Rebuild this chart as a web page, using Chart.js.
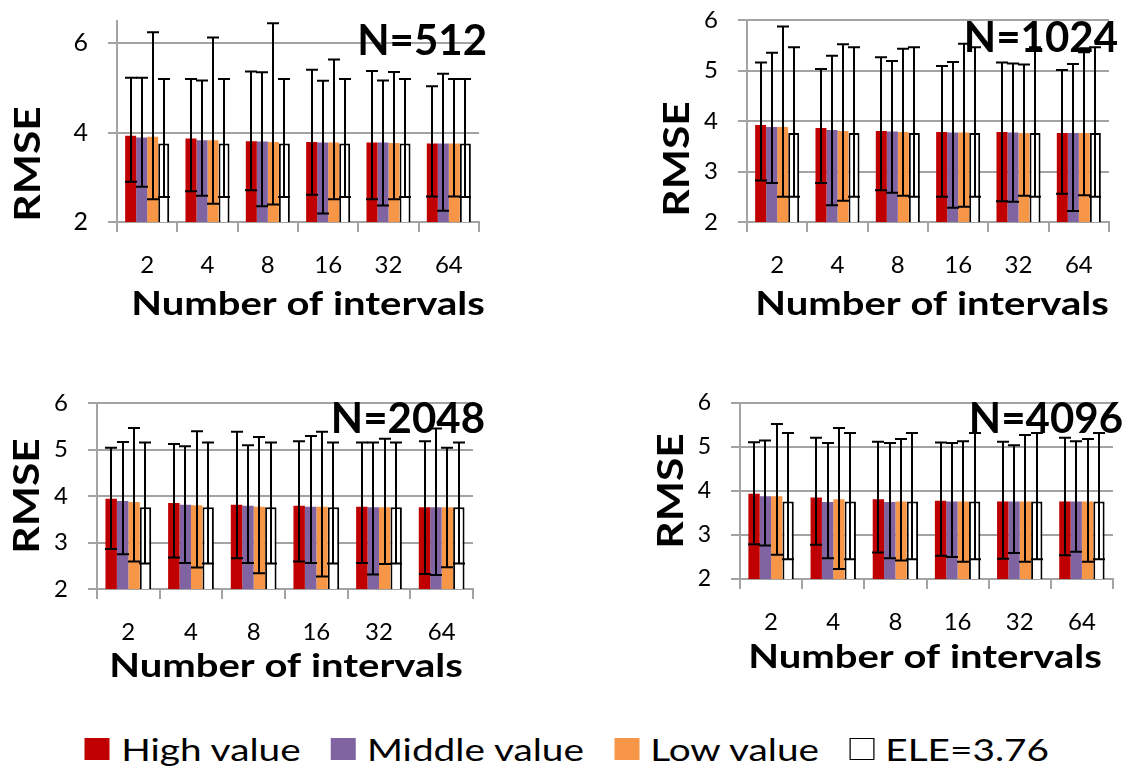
<!DOCTYPE html>
<html>
<head>
<meta charset="utf-8">
<title>RMSE by number of intervals</title>
<script src="https://cdn.jsdelivr.net/npm/chart.js@4.4.0/dist/chart.umd.min.js"></script>
<style>
  html, body { margin: 0; padding: 0; background: #fff; }
  body { width: 1128px; height: 768px; position: relative; overflow: hidden; font-family: Lato, sans-serif; }
  canvas { position: absolute; }
  #legend { position: absolute; left: 0; top: 729px; width: 1128px; height: 40px;
            display: flex; justify-content: center; align-items: center;
            font-size: 31px; color: #000; transform: scaleX(1.25); transform-origin: 552px 50%; }
  .item { display: flex; align-items: center; margin: 0 12px; white-space: nowrap; }
  .swatch { width: 20px; height: 22px; margin-right: 9px; box-sizing: border-box; }
</style>
</head>
<body>
<canvas id="c512"></canvas>
<canvas id="c1024"></canvas>
<canvas id="c2048"></canvas>
<canvas id="c4096"></canvas>
<div id="legend"></div>
<script>
// --- data ---
const categories = ['2', '4', '8', '16', '32', '64'];
const seriesNames = ['High value', 'Middle value', 'Low value', 'ELE=3.76'];

// N=512
const n512High = [3.93, 3.87, 3.81, 3.79, 3.78, 3.76];
const n512HighMin = [2.90, 2.69, 2.71, 2.61, 2.51, 2.57];
const n512HighMax = [5.23, 5.20, 5.37, 5.41, 5.38, 5.04];
const n512Middle = [3.89, 3.83, 3.80, 3.78, 3.78, 3.76];
const n512MiddleMin = [2.79, 2.59, 2.35, 2.19, 2.37, 2.25];
const n512MiddleMax = [5.23, 5.17, 5.35, 5.16, 5.17, 5.32];
const n512Low = [3.91, 3.83, 3.79, 3.78, 3.77, 3.76];
const n512LowMin = [2.51, 2.41, 2.39, 2.51, 2.51, 2.57];
const n512LowMax = [6.25, 6.13, 6.45, 5.64, 5.36, 5.20];
const n512Ele = [3.76, 3.76, 3.76, 3.76, 3.76, 3.76];
const n512EleMin = [2.56, 2.56, 2.56, 2.56, 2.56, 2.56];
const n512EleMax = [5.20, 5.20, 5.20, 5.20, 5.20, 5.20];

// N=1024
const n1024High = [3.92, 3.86, 3.80, 3.78, 3.78, 3.76];
const n1024HighMin = [2.82, 2.77, 2.63, 2.50, 2.41, 2.56];
const n1024HighMax = [5.16, 5.03, 5.26, 5.09, 5.16, 5.01];
const n1024Middle = [3.88, 3.82, 3.79, 3.77, 3.77, 3.76];
const n1024MiddleMin = [2.77, 2.33, 2.58, 2.28, 2.40, 2.22];
const n1024MiddleMax = [5.35, 5.29, 5.19, 5.17, 5.14, 5.13];
const n1024Low = [3.88, 3.80, 3.78, 3.77, 3.76, 3.76];
const n1024LowMin = [2.50, 2.42, 2.52, 2.30, 2.52, 2.53];
const n1024LowMax = [5.87, 5.52, 5.43, 5.53, 5.12, 5.36];
const n1024Ele = [3.76, 3.76, 3.76, 3.76, 3.76, 3.76];
const n1024EleMin = [2.50, 2.50, 2.50, 2.50, 2.50, 2.50];
const n1024EleMax = [5.46, 5.46, 5.46, 5.46, 5.46, 5.46];

// N=2048
const n2048High = [3.94, 3.85, 3.81, 3.79, 3.77, 3.76];
const n2048HighMin = [2.86, 2.68, 2.66, 2.59, 2.56, 2.32];
const n2048HighMax = [5.04, 5.12, 5.38, 5.18, 5.15, 5.18];
const n2048Middle = [3.89, 3.81, 3.79, 3.77, 3.76, 3.76];
const n2048MiddleMin = [2.75, 2.56, 2.56, 2.56, 2.31, 2.30];
const n2048MiddleMax = [5.16, 5.07, 5.09, 5.29, 5.15, 5.45];
const n2048Low = [3.87, 3.80, 3.77, 3.77, 3.76, 3.76];
const n2048LowMin = [2.59, 2.46, 2.34, 2.27, 2.54, 2.47];
const n2048LowMax = [5.46, 5.39, 5.27, 5.38, 5.23, 5.04];
const n2048Ele = [3.76, 3.76, 3.76, 3.76, 3.76, 3.76];
const n2048EleMin = [2.55, 2.55, 2.55, 2.55, 2.55, 2.55];
const n2048EleMax = [5.15, 5.15, 5.15, 5.15, 5.15, 5.15];

// N=4096
const n4096High = [3.94, 3.85, 3.81, 3.78, 3.76, 3.76];
const n4096HighMin = [2.79, 2.78, 2.60, 2.53, 2.46, 2.54];
const n4096HighMax = [5.11, 5.21, 5.12, 5.10, 5.12, 5.21];
const n4096Middle = [3.88, 3.75, 3.75, 3.76, 3.76, 3.76];
const n4096MiddleMin = [2.76, 2.47, 2.47, 2.50, 2.59, 2.62];
const n4096MiddleMax = [5.15, 5.09, 5.09, 5.09, 5.04, 5.13];
const n4096Low = [3.88, 3.81, 3.76, 3.76, 3.76, 3.76];
const n4096LowMin = [2.55, 2.23, 2.42, 2.39, 2.39, 2.39];
const n4096LowMax = [5.52, 5.43, 5.18, 5.13, 5.27, 5.18];
const n4096Ele = [3.76, 3.76, 3.76, 3.76, 3.76, 3.76];
const n4096EleMin = [2.45, 2.45, 2.45, 2.45, 2.45, 2.45];
const n4096EleMax = [5.32, 5.32, 5.32, 5.32, 5.32, 5.32];

// y ticks
const yTicks512 = [2, 4, 6];
const yTicksOther = [2, 3, 4, 5, 6];

// --- styles ---
const FONT = 'Lato, sans-serif';
const fillColors = ['#C00000', '#8064A2', '#F79646', '#FFFFFF'];
const gridColor = '#a3a3a3';

// --- layout of the four panels (page pixels) ---
const panels = [
  { id: 'c512', label: 'N=512', yMax: 6.5, yTicks: yTicks512, yFont: 25,
    box: [0, 0, 520, 335], area: [117, 21, 479, 222],
    rmse: [28, 164], xTitle: [308, 315], nDx: 8, nBase: 55,
    means: [n512High, n512Middle, n512Low, n512Ele],
    mins: [n512HighMin, n512MiddleMin, n512LowMin, n512EleMin],
    maxs: [n512HighMax, n512MiddleMax, n512LowMax, n512EleMax] },
  { id: 'c1024', label: 'N=1024', yMax: 6, yTicks: yTicksOther, yFont: 24,
    box: [620, 0, 1128, 335], area: [747, 20, 1109, 222],
    rmse: [677, 159], xTitle: [932, 315], nDx: 9, nBase: 52,
    means: [n1024High, n1024Middle, n1024Low, n1024Ele],
    mins: [n1024HighMin, n1024MiddleMin, n1024LowMin, n1024EleMin],
    maxs: [n1024HighMax, n1024MiddleMax, n1024LowMax, n1024EleMax] },
  { id: 'c2048', label: 'N=2048', yMax: 6, yTicks: yTicksOther, yFont: 24,
    box: [0, 380, 520, 710], area: [97, 403, 473, 589],
    rmse: [27, 496], xTitle: [286, 677], nDx: 12, nBase: 433,
    means: [n2048High, n2048Middle, n2048Low, n2048Ele],
    mins: [n2048HighMin, n2048MiddleMin, n2048LowMin, n2048EleMin],
    maxs: [n2048HighMax, n2048MiddleMax, n2048LowMax, n2048EleMax] },
  { id: 'c4096', label: 'N=4096', yMax: 6, yTicks: yTicksOther, yFont: 23,
    box: [620, 380, 1128, 710], area: [740, 403, 1113, 579],
    rmse: [671, 491], xTitle: [925, 668], nDx: 10, nBase: 433,
    means: [n4096High, n4096Middle, n4096Low, n4096Ele],
    mins: [n4096HighMin, n4096MiddleMin, n4096LowMin, n4096EleMin],
    maxs: [n4096HighMax, n4096MiddleMax, n4096LowMax, n4096EleMax] }
];

// error bars: vertical line + caps, centered on each bar
const errorBars = {
  id: 'errorBars',
  afterDatasetsDraw(chart) {
    const { ctx } = chart;
    const y = chart.scales.y;
    ctx.save();
    ctx.strokeStyle = '#000';
    ctx.lineWidth = 2;
    chart.data.datasets.forEach((ds, di) => {
      chart.getDatasetMeta(di).data.forEach((bar, i) => {
        const x = Math.round(bar.x);
        const top = y.getPixelForValue(ds.errMax[i]);
        const bot = y.getPixelForValue(ds.errMin[i]);
        ctx.beginPath();
        ctx.moveTo(x, top); ctx.lineTo(x, bot);
        ctx.moveTo(x - 6, top); ctx.lineTo(x + 6, top);
        ctx.moveTo(x - 6, bot); ctx.lineTo(x + 6, bot);
        ctx.stroke();
      });
    });
    ctx.restore();
  }
};

// axis titles (the source text is drawn a little wide) and the N=... label
const panelText = {
  id: 'panelText',
  afterDraw(chart, args, opts) {
    const { ctx, chartArea } = chart;

    ctx.save();
    ctx.fillStyle = '#000';
    ctx.font = `bold 37px ${FONT}`;
    ctx.textAlign = 'center';
    ctx.textBaseline = 'middle';
    ctx.translate(opts.rmseX, opts.rmseY);
    ctx.rotate(-Math.PI / 2);
    ctx.scale(1.15, 1);
    ctx.fillText('RMSE', 0, 0);
    ctx.restore();

    ctx.save();
    ctx.fillStyle = '#000';
    ctx.font = `bold 32px ${FONT}`;
    ctx.textAlign = 'center';
    ctx.textBaseline = 'alphabetic';
    ctx.translate(opts.xTitleX, opts.xTitleBase);
    ctx.scale(1.25, 1);
    ctx.fillText('Number of intervals', 0, 0);
    ctx.restore();

    ctx.save();
    ctx.fillStyle = '#000';
    ctx.font = `bold 42px ${FONT}`;
    ctx.textAlign = 'right';
    ctx.textBaseline = 'alphabetic';
    ctx.fillText(opts.label, chartArea.right + opts.dx, opts.baseline);
    ctx.restore();
  }
};

function buildPanel(p) {
  const [x0, y0, x1, y1] = p.box;
  const [left, top, right, bottom] = p.area;
  const canvas = document.getElementById(p.id);
  canvas.width = x1 - x0;
  canvas.height = y1 - y0;
  canvas.style.left = x0 + 'px';
  canvas.style.top = y0 + 'px';

  const yWidth = left - x0;
  const xHeight = y1 - bottom;

  const datasets = p.means.map((vals, k) => ({
    label: seriesNames[k],
    data: vals,
    errMin: p.mins[k],
    errMax: p.maxs[k],
    backgroundColor: fillColors[k],
    borderColor: '#000',
    borderWidth: k === 3 ? 2 : 0,
    borderSkipped: false,
    categoryPercentage: 0.73,
    barPercentage: 1.0
  }));

  return new Chart(canvas, {
    type: 'bar',
    data: { labels: categories, datasets },
    options: {
      responsive: false,
      animation: false,
      devicePixelRatio: 1,
      layout: { padding: { left: 0, top: top - y0, right: x1 - right, bottom: 0 } },
      plugins: {
        legend: { display: false },
        tooltip: { enabled: false },
        panelText: {
          label: p.label, dx: p.nDx, baseline: p.nBase - y0,
          rmseX: p.rmse[0] - x0, rmseY: p.rmse[1] - y0,
          xTitleX: p.xTitle[0] - x0, xTitleBase: p.xTitle[1] - y0
        }
      },
      scales: {
        x: {
          afterFit(scale) {
            scale.height = xHeight;
            scale.paddingLeft = 0;
            scale.paddingRight = 0;
          },
          grid: { display: true, drawOnChartArea: false, drawTicks: true, tickLength: 10,
                  color: gridColor, lineWidth: 2, offset: true },
          border: { display: true, color: gridColor, width: 2 },
          ticks: { color: '#000', padding: 19, font: { family: FONT, size: 24 } }
        },
        y: {
          min: 2,
          max: p.yMax,
          afterFit(scale) {
            scale.width = yWidth;
            scale.paddingTop = 0;
            scale.paddingBottom = 0;
          },
          afterBuildTicks(scale) { scale.ticks = p.yTicks.map(v => ({ value: v })); },
          grid: { color: gridColor, lineWidth: 2, drawTicks: true, tickLength: 9 },
          border: { display: true, color: gridColor, width: 2 },
          ticks: { color: '#000', padding: 20, font: { family: FONT, size: p.yFont } }
        }
      }
    },
    plugins: [errorBars, panelText]
  });
}

function buildLegend() {
  const legend = document.getElementById('legend');
  seriesNames.forEach((name, k) => {
    const item = document.createElement('div');
    item.className = 'item';
    const sw = document.createElement('span');
    sw.className = 'swatch';
    sw.style.background = fillColors[k];
    if (k === 3) sw.style.border = '1.5px solid #000';
    const txt = document.createElement('span');
    txt.textContent = name;
    item.appendChild(sw);
    item.appendChild(txt);
    legend.appendChild(item);
  });
}

Chart.defaults.font.family = FONT;
Promise.all([
  document.fonts.load('24px Lato'),
  document.fonts.load('bold 32px Lato')
]).catch(() => {}).then(() => {
  panels.forEach(buildPanel);
  buildLegend();
});
</script>
</body>
</html>
